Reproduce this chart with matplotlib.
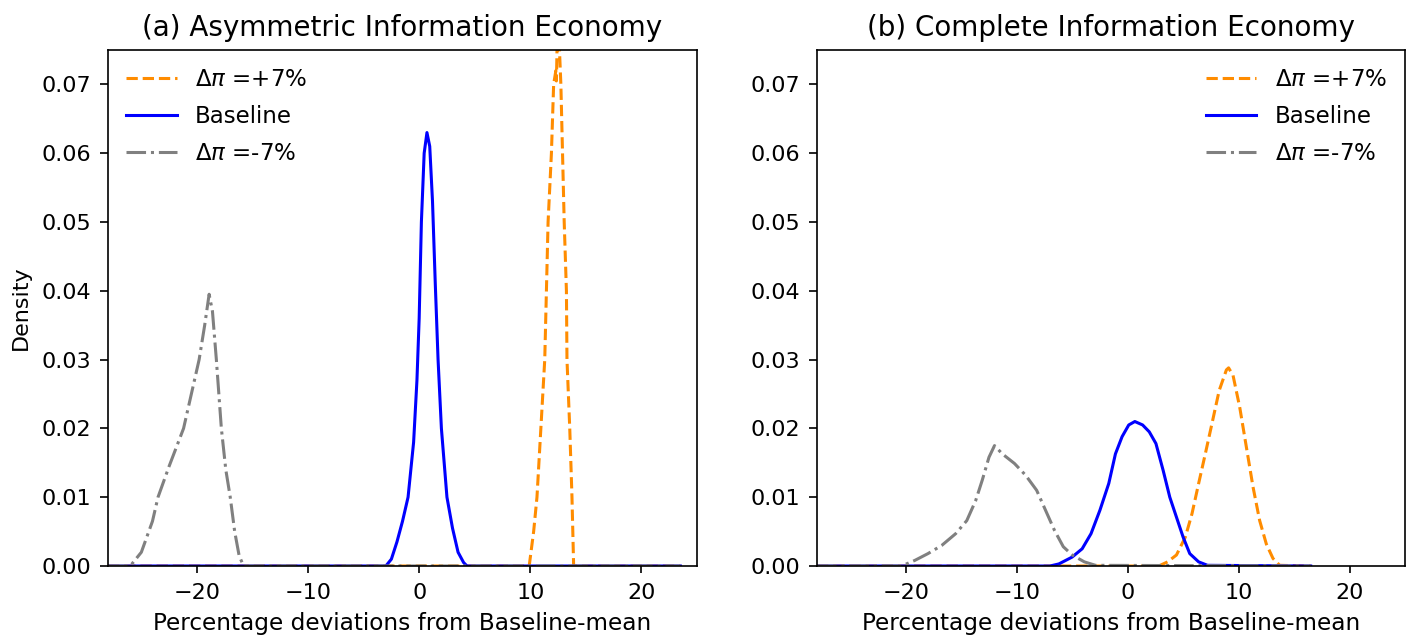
import matplotlib
matplotlib.use("Agg")
import matplotlib.pyplot as plt

# ---------------- data ----------------
# Panel (a): Asymmetric Information Economy
a_plus_x = [-28.0, 9.9, 10.3, 10.6, 10.95, 11.3, 11.45, 11.6, 11.9, 12.1, 12.3, 12.35, 12.45,
            12.6, 12.75, 12.9, 13.05, 13.25, 13.3, 13.55, 13.75, 13.9, 23.5]
a_plus_y = [0.0, 0.0, 0.005, 0.010, 0.020, 0.030, 0.040, 0.050, 0.060, 0.070, 0.072, 0.0705, 0.079,
            0.076, 0.070, 0.060, 0.050, 0.040, 0.030, 0.020, 0.010, 0.0, 0.0]

a_base_x = [-28.0, -3.0, -2.5, -2.0, -1.5, -1.0, -0.5, -0.2, 0.0, 0.2, 0.45, 0.7, 0.95,
            1.2, 1.45, 1.7, 2.0, 2.5, 3.0, 3.5, 4.0, 4.3, 23.5]
a_base_y = [0.0, 0.0, 0.001, 0.0035, 0.0065, 0.010, 0.018, 0.027, 0.036, 0.050, 0.060, 0.063, 0.061,
            0.053, 0.041, 0.030, 0.020, 0.010, 0.0055, 0.002, 0.0005, 0.0, 0.0]

a_minus_x = [-28.0, -26.0, -25.0, -24.0, -23.5, -22.5, -21.2, -20.5, -19.8, -19.3, -18.9,
             -18.6, -18.25, -17.8, -17.4, -17.0, -16.6, -16.2, -15.8, 23.5]
a_minus_y = [0.0, 0.0, 0.002, 0.0065, 0.010, 0.0145, 0.020, 0.025, 0.030, 0.035, 0.0395,
             0.037, 0.030, 0.020, 0.014, 0.010, 0.005, 0.0015, 0.0, 0.0]

# Panel (b): Complete Information Economy
b_plus_x = [-28.0, 2.8, 3.6, 4.4, 5.2, 5.8, 6.4, 7.0, 7.6, 8.25, 8.9, 9.1, 9.5, 10.1, 10.7,
            11.3, 11.9, 12.5, 13.1, 13.7, 16.5]
b_plus_y = [0.0, 0.0, 0.0006, 0.0016, 0.0042, 0.0076, 0.012, 0.0163, 0.0207, 0.0255, 0.0285,
            0.0288, 0.0277, 0.0231, 0.0173, 0.0115, 0.0066, 0.0032, 0.0011, 0.0001, 0.0]

b_base_x = [-28.0, -7.0, -6.2, -5.0, -4.1, -3.3, -2.5, -1.7, -1.1, -0.5, 0.1, 0.65, 1.35,
            1.95, 2.55, 3.2, 3.8, 4.4, 5.0, 5.6, 6.4, 7.2, 16.5]
b_base_y = [0.0, 0.0, 0.0003, 0.0013, 0.0025, 0.0047, 0.0081, 0.012, 0.0163, 0.0188, 0.0205,
            0.021, 0.0205, 0.0195, 0.0178, 0.0139, 0.010, 0.0071, 0.0042, 0.0018, 0.0006, 0.0001, 0.0]

b_minus_x = [-28.0, -20.4, -19.2, -18.0, -16.75, -15.5, -14.5, -13.7, -13.1, -12.5, -12.0,
             -11.3, -10.2, -9.2, -8.2, -7.4, -6.6, -5.8, -5.0, -3.9, -2.9, 16.5]
b_minus_y = [0.0, 0.0, 0.0008, 0.0018, 0.003, 0.0047, 0.0066, 0.0095, 0.0125, 0.0158, 0.0175,
             0.0163, 0.0149, 0.0132, 0.011, 0.0081, 0.0052, 0.0028, 0.0016, 0.0006, 0.0001, 0.0]

labels = [r"$\Delta\pi$ =+7%", "Baseline", r"$\Delta\pi$ =-7%"]
titles = ["(a) Asymmetric Information Economy", "(b) Complete Information Economy"]
xlabel = "Percentage deviations from Baseline-mean"
ylabel = "Density"
xticks = [-20, -10, 0, 10, 20]
yticks = [0.00, 0.01, 0.02, 0.03, 0.04, 0.05, 0.06, 0.07]

# ---------------- figure ----------------
fig = plt.figure(figsize=(14.11, 6.39), dpi=100)
W, H = 1411, 639
ax1 = fig.add_axes([108 / W, (H - 566) / H, 589 / W, 516 / H])
ax2 = fig.add_axes([817 / W, (H - 566) / H, 588 / W, 516 / H])

styles = [dict(color="darkorange", ls="--"), dict(color="blue", ls="-"), dict(color="gray", ls="-.")]

panels = [
    (ax1, [(a_plus_x, a_plus_y), (a_base_x, a_base_y), (a_minus_x, a_minus_y)], "upper left"),
    (ax2, [(b_plus_x, b_plus_y), (b_base_x, b_base_y), (b_minus_x, b_minus_y)], "upper right"),
]

FS = 16
for i, (ax, series, loc) in enumerate(panels):
    for (x, y), st, lab in zip(series, styles, labels):
        ax.plot(x, y, lw=2.2, label=lab, **st)
    ax.set_xlim(-28, 25)
    ax.set_ylim(0, 0.075)
    ax.set_xticks(xticks)
    ax.set_yticks(yticks)
    ax.set_yticklabels([f"{v:.2f}" for v in yticks])
    ax.tick_params(labelsize=FS, width=1.2)
    ax.tick_params(axis="x", length=5, pad=7)
    ax.tick_params(axis="y", length=6, pad=6)
    ax.set_title(titles[i], fontsize=20, pad=10)
    ax.set_xlabel(xlabel, fontsize=16.7, labelpad=7)
    for s in ax.spines.values():
        s.set_linewidth(1.2)
    ax.legend(loc=loc, frameon=False, fontsize=16.5, handlelength=2.2,
              handletextpad=0.8, labelspacing=0.6, borderaxespad=0.4)

ax1.set_ylabel(ylabel, fontsize=FS, labelpad=8)

fig.savefig("out.png", dpi=100)
